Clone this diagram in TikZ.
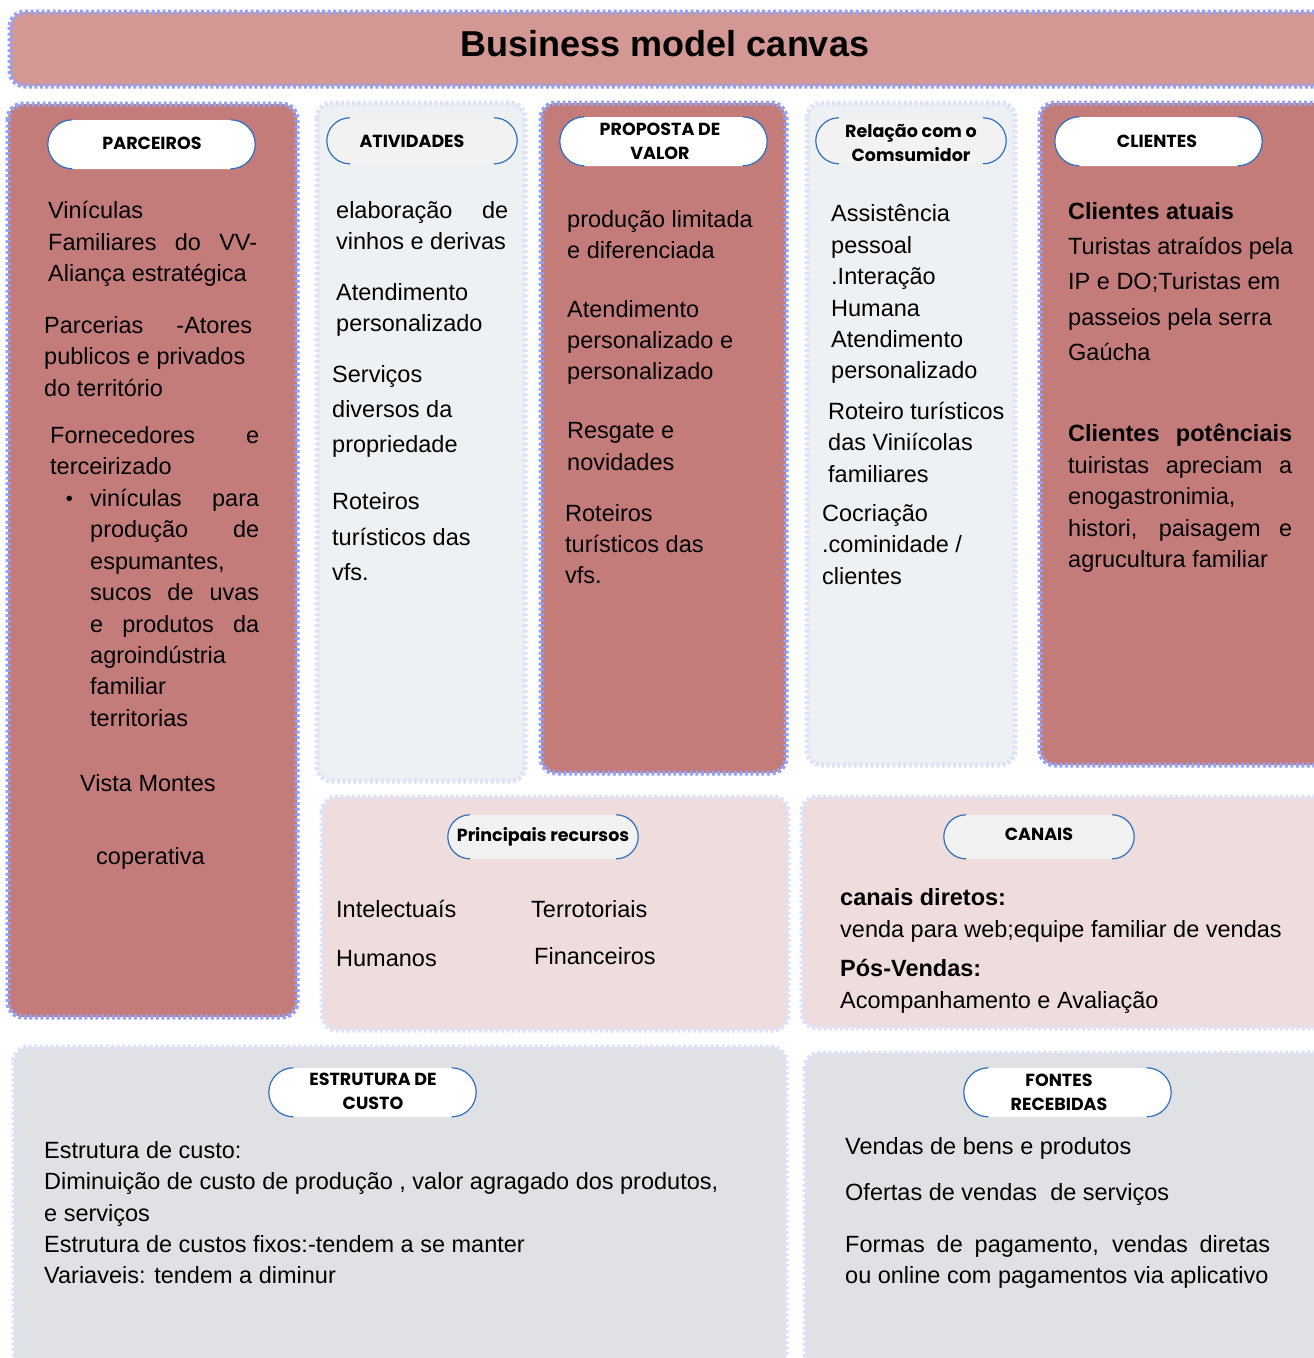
\documentclass[tikz,border=0pt]{standalone}
\usepackage{fontspec}
\setmainfont{Liberation Sans}
\newfontfamily\popfont{Poppins}
\usetikzlibrary{calc}
\definecolor{titlerose}{HTML}{D39794}
\definecolor{darkrose}{HTML}{C47C7B}
\definecolor{paleblue}{HTML}{EEF1F4}
\definecolor{palepink}{HTML}{EFDCDC}
\definecolor{palegray}{HTML}{DFE1E5}
\definecolor{dotblue}{HTML}{93A2F7}
\definecolor{dotfaint}{HTML}{DEE2F8}
\definecolor{arcblue}{HTML}{2F6FBE}
\definecolor{pillgray}{HTML}{F2F2F2}
\tikzset{
  txt/.style={anchor=base west, inner sep=0pt, font=\fontsize{23.5}{28}\selectfont},
  hdr/.style={align=center, inner sep=0pt, font=\popfont\bfseries\fontsize{17.5}{24}\selectfont},
  pillshape/.style={draw=none, inner sep=0pt},
  pillarc/.style={draw=arcblue, line width=1.2pt},
  boxstrong/.style={draw=dotblue, line width=5pt, dash pattern=on 3pt off 2.5pt, rounded corners=15pt},
  boxfaint/.style={draw=dotfaint, line width=5pt, dash pattern=on 3pt off 2.5pt, rounded corners=15pt},
}
\newcommand\tl[4]{\node[txt] (#1) at (#2,-#3) {#4};}
\newcommand\tj[5]{\node[txt] (#1) at (#2,-#3) {\makebox[#4pt][s]{#5}};}
\newcommand\pill[7]{%
  \node[pillshape, fill=#7, minimum width=#4pt, minimum height=#5pt, rounded corners=#6pt] (#1) at (#2,-#3) {};
  \draw[pillarc] ($(#1.north west)+(#6,0)$) arc[start angle=90,end angle=270,radius=#6pt];
  \draw[pillarc] ($(#1.north east)+(-#6,0)$) arc[start angle=90,end angle=-90,radius=#6pt];
}
\begin{document}
\begin{tikzpicture}[x=1pt,y=1pt]
\path[use as bounding box] (0,0) rectangle (1314,-1358);
\clip (0,0) rectangle (1314,-1358);
\fill[white] (0,0) rectangle (1314,-1358);
% boxes
\path[fill=titlerose, boxstrong] (10,-12) rectangle (1340,-86);
\path[fill=darkrose, boxstrong] (8,-104) rectangle (297,-1017);
\path[fill=paleblue, boxfaint] (317,-103) rectangle (525,-781);
\path[fill=darkrose, boxstrong] (541,-103) rectangle (786,-773);
\path[fill=paleblue, boxfaint] (807,-103) rectangle (1015,-765);
\path[fill=darkrose, boxstrong] (1040,-103) rectangle (1340,-765);
\path[fill=palepink, boxfaint] (322,-797) rectangle (788,-1030);
\path[fill=palepink, boxfaint] (802,-797) rectangle (1340,-1028);
\path[fill=palegray, boxfaint] (14,-1047) rectangle (786,-1390);
\path[fill=palegray, boxfaint] (805,-1053) rectangle (1340,-1390);
% title
\node[anchor=base, inner sep=0pt, font=\bfseries\fontsize{36}{40}\selectfont] (title) at (665,-56) {Business model canvas};
% pills
\pill{pparc}{151.5}{144.5}{207}{49}{24.5}{white}
\pill{pativ}{422}{141}{190}{46}{23}{pillgray}
\pill{pprop}{663.5}{141.5}{207}{49}{24.5}{white}
\pill{prel}{911}{141}{190}{46}{23}{pillgray}
\pill{pcli}{1158.5}{141.5}{207}{49}{24.5}{white}
\pill{prec}{543}{837}{190}{44}{22}{pillgray}
\pill{pcan}{1039}{837}{190}{44}{22}{pillgray}
\pill{pest}{372.5}{1092.5}{207}{49}{24.5}{white}
\pill{pfon}{1067.5}{1092.5}{207}{49}{24.5}{white}
\node[hdr] (hparc) at (152,-143) {PARCEIROS};
\node[hdr] (hativ) at (412,-141) {ATIVIDADES};
\node[hdr] (hprop) at (660,-141) {PROPOSTA DE\\VALOR};
\node[hdr] (hrel) at (911,-143) {Relação com o\\Comsumidor};
\node[hdr] (hcli) at (1157,-141) {CLIENTES};
\node[hdr] (hrec) at (543,-836.5) {Principais recursos};
\node[hdr] (hcan) at (1039,-834) {CANAIS};
\node[hdr] (hest) at (373,-1091.5) {ESTRUTURA DE\\CUSTO};
\node[hdr] (hfon) at (1059,-1092) {FONTES\\RECEBIDAS};
% PARCEIROS
\tl{a1}{48}{218}{Vinículas}
\tj{a2}{48}{250}{209}{Familiares do VV-}
\tl{a3}{48}{281}{Aliança estratégica}
\tj{a4}{44}{333}{208}{Parcerias -Atores}
\tl{a5}{44}{364}{publicos e privados}
\tl{a6}{44}{396}{do território}
\tj{a7}{50}{443}{209}{Fornecedores e}
\tl{a8}{50}{474}{terceirizado}
\node[anchor=base, inner sep=0pt, font=\fontsize{20}{22}\selectfont] (abul) at (69.5,-505) {•};
\tj{a9}{90}{506}{169}{vinículas para}
\tj{a10}{90}{537}{169}{produção de}
\tl{a11}{90}{569}{espumantes,}
\tj{a12}{90}{600}{169}{sucos de uvas}
\tj{a13}{90}{632}{169}{e produtos da}
\tl{a14}{90}{663}{agroindústria}
\tl{a15}{90}{694}{familiar}
\tl{a16}{90}{726}{territorias}
\tl{a17}{80}{791}{Vista Montes}
\tl{a18}{96}{864}{coperativa}
% ATIVIDADES
\tj{b1}{336}{218}{172}{elaboração de}
\tl{b2}{336}{249}{vinhos e derivas}
\tl{b3}{336}{300}{Atendimento}
\tl{b4}{336}{331}{personalizado}
\tl{b5}{332}{382}{Serviços}
\tl{b6}{332}{417}{diversos da}
\tl{b7}{332}{452}{propriedade}
\tl{b8}{332}{509}{Roteiros}
\tl{b9}{332}{545}{turísticos das}
\tl{b10}{332}{580}{vfs.}
% PROPOSTA
\tl{c1}{567}{227}{produção limitada}
\tl{c2}{567}{258}{e diferenciada}
\tl{c3}{567}{317}{Atendimento}
\tl{c4}{567}{348}{personalizado e}
\tl{c5}{567}{379}{personalizado}
\tl{c6}{567}{438}{Resgate e}
\tl{c7}{567}{470}{novidades}
\tl{c8}{565}{521}{Roteiros}
\tl{c9}{565}{552}{turísticos das}
\tl{c10}{565}{583}{vfs.}
% RELACAO
\tl{d1}{831}{221}{Assistência}
\tl{d2}{831}{253}{pessoal}
\tl{d3}{831}{284}{.Interação}
\tl{d4}{831}{316}{Humana}
\tl{d5}{831}{347}{Atendimento}
\tl{d6}{831}{378}{personalizado}
\tl{d7}{828}{419}{Roteiro turísticos}
\tl{d8}{828}{450}{das Viniícolas}
\tl{d9}{828}{482}{familiares}
\tl{d10}{822}{521}{Cocriação}
\tl{d11}{822}{552}{.cominidade /}
\tl{d12}{822}{584}{clientes}
% CLIENTES
\tl{e1}{1068}{219}{\bfseries Clientes atuais}
\tl{e2}{1068}{254}{Turistas atraídos pela}
\tl{e3}{1068}{289}{IP e DO;Turistas em}
\tl{e4}{1068}{325}{passeios pela serra}
\tl{e5}{1068}{360}{Gaúcha}
\tj{e6}{1068}{441}{224}{\bfseries Clientes potênciais}
\tj{e7}{1068}{473}{224}{tuiristas apreciam a}
\tl{e8}{1068}{504}{enogastronimia,}
\tj{e9}{1068}{536}{224}{histori, paisagem e}
\tl{e10}{1068}{567}{agrucultura familiar}
% RECURSOS
\tl{f1}{336}{917}{Intelectuaís}
\tl{f2}{531}{917}{Terrotoriais}
\tl{f3}{336}{966}{Humanos}
\tl{f4}{534}{964}{Financeiros}
% CANAIS
\tl{g1}{840}{905}{\bfseries canais diretos:}
\tl{g2}{840}{937}{venda para web;equipe familiar de vendas}
\tl{g3}{840}{976}{\bfseries Pós-Vendas:}
\tl{g4}{840}{1008}{Acompanhamento e Avaliação}
% ESTRUTURA
\tl{h1}{44}{1158}{Estrutura de custo:}
\tl{h2}{44}{1189}{Diminuição de custo de produção , valor agragado dos produtos,}
\tl{h3}{44}{1221}{e serviços}
\tl{h4}{44}{1252}{Estrutura de custos fixos:-tendem a se manter}
\tl{h5}{44}{1283}{Variaveis: tendem a diminur}
% FONTES
\tl{i1}{845}{1154}{Vendas de bens e produtos}
\tl{i2}{845}{1200}{Ofertas de vendas\ \ de serviços}
\tj{i3}{845}{1252}{425}{Formas de pagamento, vendas diretas}
\tl{i4}{845}{1283}{ou online com pagamentos via aplicativo}
\end{tikzpicture}
\end{document}
